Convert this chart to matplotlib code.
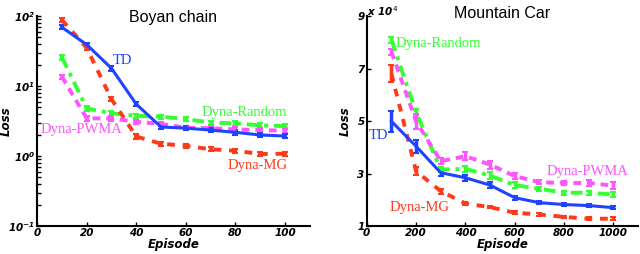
import matplotlib
matplotlib.use('Agg')
import matplotlib.pyplot as plt
import numpy as np

# Boyan chain
boyan_episodes = [10, 20, 30, 40, 50, 60, 70, 80, 90, 100]
boyan_td = [69, 39, 17.9, 5.5, 2.6, 2.5, 2.35, 2.18, 2.0, 1.93]
boyan_mg = [88, 35, 6.5, 1.9, 1.5, 1.4, 1.25, 1.19, 1.07, 1.08]
boyan_random = [25.7, 4.8, 4.07, 3.77, 3.65, 3.38, 3.0, 2.93, 2.74, 2.68]
boyan_pwma = [13.6, 3.45, 3.45, 3.09, 2.87, 2.54, 2.5, 2.4, 2.35, 2.3]

# Mountain car (x 10^4)
car_episodes = [100, 200, 300, 400, 500, 600, 700, 800, 900, 1000]
car_td = [4.99, 4.04, 3.03, 2.84, 2.56, 2.08, 1.89, 1.82, 1.78, 1.70]
car_mg = [6.8, 3.09, 2.33, 1.86, 1.72, 1.51, 1.44, 1.35, 1.28, 1.28]
car_random = [8.09, 5.34, 3.15, 3.18, 2.92, 2.56, 2.42, 2.27, 2.27, 2.2]
car_pwma = [7.64, 4.99, 3.47, 3.66, 3.34, 2.9, 2.67, 2.64, 2.64, 2.54]

car_td_err = [0.4, 0.25, 0.12, 0.12, 0.12, 0.08, 0.06, 0.06, 0.06, 0.06]
car_mg_err = [0.33, 0.15, 0.1, 0.07, 0.05, 0.05, 0.05, 0.05, 0.05, 0.05]
car_random_err = [0.12, 0.1, 0.1, 0.12, 0.12, 0.1, 0.08, 0.08, 0.08, 0.1]
car_pwma_err = [0.12, 0.28, 0.12, 0.15, 0.15, 0.12, 0.08, 0.08, 0.1, 0.12]

blue = '#1f44ff'
red = '#ff3a1a'
green = '#33ff33'
magenta = '#ff55ff'

styles = {
    'TD': dict(color=blue, ls='-', lw=2.2),
    'Dyna-MG': dict(color=red, ls=(0, (2, 2)), lw=2.8),
    'Dyna-Random': dict(color=green, ls=(0, (3, 1.5, 1, 1.5)), lw=2.8),
    'Dyna-PWMA': dict(color=magenta, ls=(0, (2, 1.5)), lw=2.8),
}

label_font = dict(fontsize=8.5, fontweight='bold', fontstyle='italic')
note_font = dict(family='Liberation Serif', fontsize=10.5)


def style_axes(ax):
    ax.spines['top'].set_visible(False)
    ax.spines['right'].set_visible(False)
    ax.spines['left'].set_linewidth(1.5)
    ax.spines['bottom'].set_linewidth(1.5)
    ax.tick_params(direction='in', which='both', length=3, width=1, pad=1.5)
    for lab in ax.get_xticklabels() + ax.get_yticklabels():
        lab.set_fontweight('bold')
        lab.set_fontstyle('italic')
        lab.set_fontsize(7.5)


fig = plt.figure(figsize=(6.4, 2.54), dpi=100)

# left panel
ax1 = fig.add_axes([0.058, 0.110, 0.426, 0.827])
series1 = [('Dyna-Random', boyan_random), ('Dyna-PWMA', boyan_pwma),
           ('Dyna-MG', boyan_mg), ('TD', boyan_td)]
for name, vals in series1:
    vals = np.array(vals)
    ax1.errorbar(boyan_episodes, vals, yerr=vals * 0.07, capsize=2, elinewidth=3,
                 capthick=1.5, **styles[name])
ax1.set_yscale('log')
ax1.set_ylim(0.1, 100)
ax1.set_xlim(0, 110)
ax1.set_xticks([0, 20, 40, 60, 80, 100])
ax1.set_xlabel('Episode', labelpad=0, **label_font)
ax1.set_ylabel('Loss', **label_font)
style_axes(ax1)
ax1.yaxis.set_label_coords(-0.09, 0.5)
ax1.set_title('Boyan chain', fontsize=11.5, family='Liberation Sans', y=0.93)
ax1.text(34.4, 22.8, 'TD', color=blue, ha='center', va='center', **note_font)
ax1.text(83.8, 4.25, 'Dyna-Random', color=green, ha='center', va='center', **note_font)
ax1.text(18, 2.4, 'Dyna-PWMA', color=magenta, ha='center', va='center', **note_font)
ax1.text(88.9, 0.74, 'Dyna-MG', color=red, ha='center', va='center', **note_font)

# right panel
ax2 = fig.add_axes([0.573, 0.110, 0.424, 0.827])
series2 = [('Dyna-Random', car_random, car_random_err), ('Dyna-PWMA', car_pwma, car_pwma_err),
           ('Dyna-MG', car_mg, car_mg_err), ('TD', car_td, car_td_err)]
for name, vals, err in series2:
    ax2.errorbar(car_episodes, vals, yerr=err, capsize=2, elinewidth=2.5,
                 capthick=1.5, **styles[name])
ax2.set_ylim(1, 9)
ax2.set_xlim(0, 1100)
ax2.set_xticks([0, 200, 400, 600, 800, 1000])
ax2.set_yticks([1, 3, 5, 7, 9])
ax2.set_xlabel('Episode', labelpad=0, **label_font)
ax2.set_ylabel('Loss', labelpad=4, **label_font)
style_axes(ax2)
ax2.text(0.0, 0.99, r'x 10$^4$', transform=ax2.transAxes, ha='left', va='bottom',
         fontsize=7.5, fontweight='bold', fontstyle='italic')
ax2.set_title('Mountain Car', fontsize=11.5, family='Liberation Sans', y=0.95)
ax2.text(292, 7.96, 'Dyna-Random', color=green, ha='center', va='center', **note_font)
ax2.text(48, 4.44, 'TD', color=blue, ha='center', va='center', **note_font)
ax2.text(896, 3.09, 'Dyna-PWMA', color=magenta, ha='center', va='center', **note_font)
ax2.text(215, 1.70, 'Dyna-MG', color=red, ha='center', va='center', **note_font)

fig.savefig('out.png', dpi=100)
